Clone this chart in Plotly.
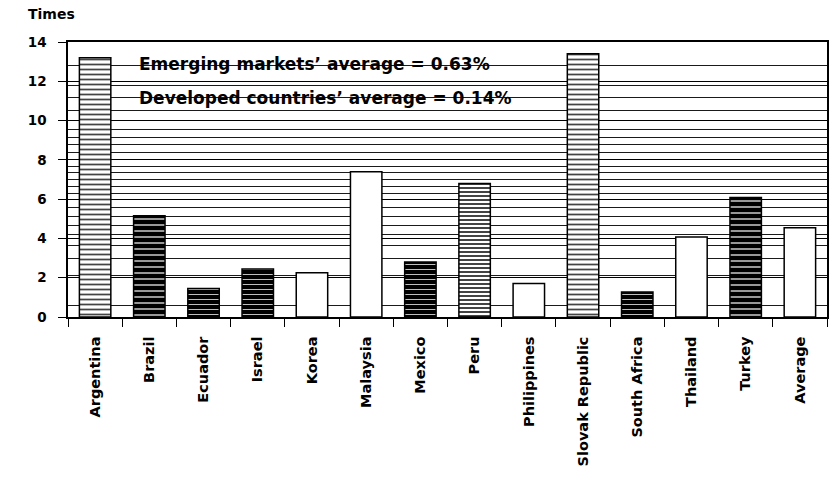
import plotly.graph_objects as go

countries = ["Argentina", "Brazil", "Ecuador", "Israel", "Korea", "Malaysia", "Mexico",
             "Peru", "Philippines", "Slovak Republic", "South Africa", "Thailand", "Turkey", "Average"]
values = [13.2, 5.15, 1.45, 2.45, 2.25, 7.4, 2.8, 6.8, 1.7, 13.4, 1.27, 4.07, 6.08, 4.55]

y_title = "Times"
note_emerging = "Emerging markets’ average = 0.63%"
note_developed = "Developed countries’ average = 0.14%"

# fill style per bar: light stripes / dark stripes / solid dark / plain white
fill_kind = ["light", "dark", "solid", "solid", "plain", "plain", "solid",
             "mid", "plain", "light", "solid", "plain", "dark", "plain"]
style = {
    "light": dict(shape="-", fg="#222222", size=5, sol=0.35, color="white"),
    "mid": dict(shape="-", fg="#333333", size=4, sol=0.5, color="white"),
    "dark": dict(shape="-", fg="white", size=6, sol=0.2, color="black"),
    "solid": dict(shape="-", fg="#444444", size=5, sol=0.15, color="black"),
    "plain": dict(shape="", fg="white", size=4, sol=0.3, color="white"),
}

# irregular background rules seen in the reference
bg_rules = [12.79, 11.8, 11.16, 10.5, 9.55, 9.12, 8.78, 8.4, 7.67, 7.36, 6.99, 6.63, 6.31,
            5.57, 5.11, 4.67, 4.18, 3.65, 3.0, 2.1, 0.58]

FONT = "DejaVu Sans"

fig = go.Figure()
fig.add_trace(go.Bar(
    x=countries, y=values,
    marker=dict(
        color=[style[k]["color"] for k in fill_kind],
        line=dict(color="black", width=1.5),
        pattern=dict(
            shape=[style[k]["shape"] for k in fill_kind],
            fgcolor=[style[k]["fg"] for k in fill_kind],
            size=[style[k]["size"] for k in fill_kind],
            solidity=[style[k]["sol"] for k in fill_kind],
            fillmode="overlay",
            fgopacity=1,
        ),
    ),
    width=0.58,
    showlegend=False,
))

fig.update_layout(
    width=830, height=483,
    margin=dict(l=68, r=1, t=42, b=166),
    paper_bgcolor="white", plot_bgcolor="white",
    font=dict(family=FONT, color="black"),
    xaxis=dict(
        type="category", tickson="boundaries", ticks="outside", ticklen=8,
        tickcolor="black", tickwidth=1, tickangle=-90,
        showline=True, linecolor="black", linewidth=1.5, mirror=True,
        showgrid=False,
        tickfont=dict(family=FONT, size=14.5, color="black", weight="bold"),
        ticklabelstandoff=12,
    ),
    yaxis=dict(
        range=[0, 14], dtick=2, ticks="outside", ticklen=8, tickcolor="black",
        showline=True, linecolor="black", linewidth=1.5, mirror=True,
        showgrid=True, gridcolor="black", gridwidth=1.4, zeroline=False,
        tickfont=dict(family=FONT, size=13.5, color="black", weight="bold"),
        ticklabelstandoff=9,
        minor=dict(tickmode="array", tickvals=bg_rules, showgrid=True,
                   gridcolor="#1a1a1a", gridwidth=1.2, ticks=""),
    ),
    annotations=[
        dict(text=y_title, xref="paper", yref="paper", x=-0.055, y=1.1, xanchor="left",
             yanchor="middle", showarrow=False,
             font=dict(family=FONT, size=14, color="black", weight="bold")),
        dict(text=note_emerging, xref="paper", yref="y", x=0.091, y=12.9, xanchor="left",
             yanchor="middle", showarrow=False,
             font=dict(family=FONT, size=17, color="black", weight="bold")),
        dict(text=note_developed, xref="paper", yref="y", x=0.091, y=11.15, xanchor="left",
             yanchor="middle", showarrow=False,
             font=dict(family=FONT, size=17, color="black", weight="bold")),
    ],
)

fig.write_html("out.html")
